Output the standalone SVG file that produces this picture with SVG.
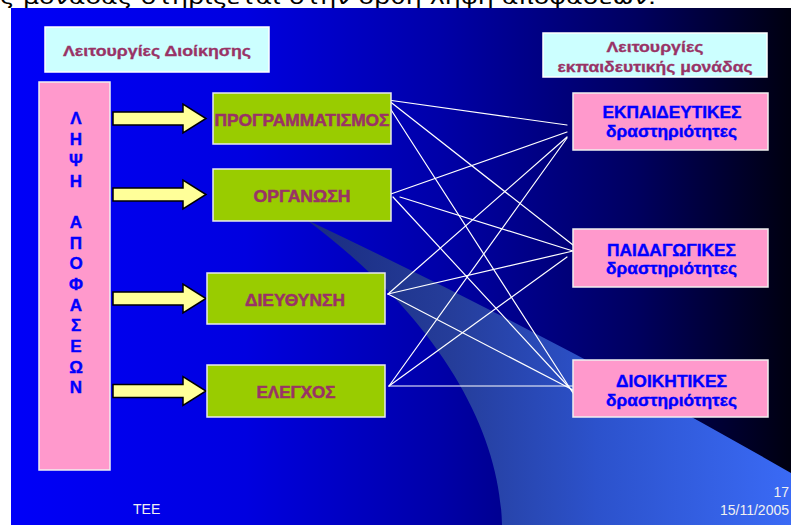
<svg xmlns="http://www.w3.org/2000/svg" width="791" height="525" viewBox="0 0 791 525">
<defs>
<linearGradient id="bg" x1="0" y1="0" x2="1" y2="0">
<stop offset="0" stop-color="#0000f8"/>
<stop offset="0.3" stop-color="#0000e0"/>
<stop offset="0.55" stop-color="#0000a8"/>
<stop offset="0.8" stop-color="#000060"/>
<stop offset="1" stop-color="#000010"/>
</linearGradient>
<linearGradient id="sw" gradientUnits="userSpaceOnUse" x1="307" y1="0" x2="791" y2="0">
<stop offset="0" stop-color="#1a2c80"/>
<stop offset="0.3" stop-color="#253d9a"/>
<stop offset="0.6" stop-color="#2c52cc"/>
<stop offset="1" stop-color="#3a6af5"/>
</linearGradient>
<path id="arr" d="M113,-6.5 H183 V-14.5 L206,0 L183,14.5 V6.5 H113 Z"/>
<style>
.arrow{fill:#ffff99;stroke:#000;stroke-width:1.5;stroke-linejoin:miter}
.title{fill:#ccffff;stroke:#ffffff;stroke-width:1.5}
.green{fill:#99cc00;stroke:#e8e8f0;stroke-width:1.5}
.pink{fill:#ff99cc;stroke:#f0f0f0;stroke-width:1.5}
.tt{font-family:"Liberation Sans",Arial,sans-serif;font-weight:bold;font-size:15px;fill:#993366;stroke:#993366;stroke-width:0.3;text-anchor:middle}
.gt{font-family:"Liberation Sans",Arial,sans-serif;font-weight:bold;font-size:16.5px;fill:#993366;stroke:#993366;stroke-width:0.5;text-anchor:middle}
.pt{font-family:"Liberation Sans",Arial,sans-serif;font-weight:bold;font-size:16.5px;fill:#0000ff;stroke:#0000ff;stroke-width:0.4;text-anchor:middle}
.lt{font-family:"Liberation Sans",Arial,sans-serif;font-weight:bold;font-size:17px;fill:#0000ff;stroke:#0000ff;stroke-width:0.4;text-anchor:middle}
.foot{font-family:"Liberation Sans",Arial,sans-serif;font-size:14px;fill:#f0f0f0}
#connectors line{stroke:#ffffff;stroke-width:1.2;stroke-linecap:round}
</style>
</defs>
<rect x="0" y="0" width="791" height="525" fill="#ffffff"/>
<text x="0" y="4" font-family="DejaVu Sans, sans-serif" font-size="20" fill="#000" textLength="656" lengthAdjust="spacingAndGlyphs">ς μονάδας στηρίζεται στην ορθή λήψη αποφάσεων.</text>
<rect x="11" y="8" width="780" height="517" fill="url(#bg)"/>
<path d="M307,220 Q560,340 791,473 L791,525 L502,525 C500,430 440,320 307,220 Z" fill="url(#sw)"/>

<g id="connectors">
<line x1="388" y1="100" x2="567" y2="125"/>
<line x1="388" y1="100" x2="573" y2="245"/>
<line x1="388" y1="105" x2="573" y2="393"/>
<line x1="388" y1="195" x2="567" y2="132"/>
<line x1="400" y1="197" x2="573" y2="251"/>
<line x1="393" y1="197" x2="578" y2="397"/>
<line x1="388" y1="294" x2="567" y2="137"/>
<line x1="388" y1="294" x2="573" y2="251"/>
<line x1="388" y1="294" x2="573" y2="390"/>
<line x1="389" y1="386" x2="567" y2="138"/>
<line x1="389" y1="386" x2="567" y2="257"/>
<line x1="389" y1="386" x2="573" y2="386"/>
</g>

<g id="title-left">
<rect class="title" x="45" y="27" width="224" height="45"/>
<text class="tt" x="157" y="56" textLength="188" lengthAdjust="spacingAndGlyphs">Λειτουργίες Διοίκησης</text>
</g>
<g id="title-right">
<rect class="title" x="543" y="33" width="224" height="44"/>
<text class="tt" x="655" y="52" textLength="97" lengthAdjust="spacingAndGlyphs">Λειτουργίες</text>
<text class="tt" x="655" y="72" textLength="195" lengthAdjust="spacingAndGlyphs">εκπαιδευτικής μονάδας</text>
</g>

<g id="decisions">
<rect class="pink" x="39" y="82" width="71" height="388"/>
<g class="lt">
<text x="76" y="124">Λ</text>
<text x="76" y="145">Η</text>
<text x="76" y="166">Ψ</text>
<text x="76" y="186.5">Η</text>
<text x="76" y="228">Α</text>
<text x="76" y="248.5">Π</text>
<text x="76" y="269">Ο</text>
<text x="76" y="290">Φ</text>
<text x="76" y="310.5">Α</text>
<text x="76" y="331">Σ</text>
<text x="76" y="351.5">Ε</text>
<text x="76" y="372.5">Ω</text>
<text x="76" y="393">Ν</text>
</g>
</g>

<g id="arrow-1"><use href="#arr" class="arrow" transform="translate(0,118.5)"/></g>
<g id="arrow-2"><use href="#arr" class="arrow" transform="translate(0,194.5)"/></g>
<g id="arrow-3"><use href="#arr" class="arrow" transform="translate(0,298.5)"/></g>
<g id="arrow-4"><use href="#arr" class="arrow" transform="translate(0,391)"/></g>

<g id="programmatismos">
<rect class="green" x="213" y="93" width="178" height="51"/>
<text class="gt" x="302" y="126" textLength="175" lengthAdjust="spacingAndGlyphs">ΠΡΟΓΡΑΜΜΑΤΙΣΜΟΣ</text>
</g>
<g id="organosi">
<rect class="green" x="213" y="169" width="178" height="52"/>
<text class="gt" x="302" y="202" textLength="97" lengthAdjust="spacingAndGlyphs">ΟΡΓΑΝΩΣΗ</text>
</g>
<g id="dieythynsi">
<rect class="green" x="207" y="273" width="178" height="51"/>
<text class="gt" x="295" y="305.5" textLength="100" lengthAdjust="spacingAndGlyphs">ΔΙΕΥΘΥΝΣΗ</text>
</g>
<g id="elegxos">
<rect class="green" x="207" y="365" width="178" height="52"/>
<text class="gt" x="296" y="398" textLength="79" lengthAdjust="spacingAndGlyphs">ΕΛΕΓΧΟΣ</text>
</g>

<g id="ekpaideytikes">
<rect class="pink" x="573" y="93" width="195" height="57"/>
<text class="pt" x="672" y="118" textLength="139" lengthAdjust="spacingAndGlyphs">ΕΚΠΑΙΔΕΥΤΙΚΕΣ</text>
<text class="pt" x="671.5" y="137" textLength="131" lengthAdjust="spacingAndGlyphs">δραστηριότητες</text>
</g>
<g id="paidagogikes">
<rect class="pink" x="573" y="229" width="195" height="58"/>
<text class="pt" x="671.5" y="256" textLength="129" lengthAdjust="spacingAndGlyphs">ΠΑΙΔΑΓΩΓΙΚΕΣ</text>
<text class="pt" x="671.5" y="274" textLength="131" lengthAdjust="spacingAndGlyphs">δραστηριότητες</text>
</g>
<g id="dioikitikes">
<rect class="pink" x="573" y="360" width="195" height="57"/>
<text class="pt" x="671.5" y="387" textLength="111" lengthAdjust="spacingAndGlyphs">ΔΙΟΙΚΗΤΙΚΕΣ</text>
<text class="pt" x="671.5" y="406" textLength="131" lengthAdjust="spacingAndGlyphs">δραστηριότητες</text>
</g>

<text class="foot" x="133" y="514">TEE</text>
<text class="foot" x="789" y="497" text-anchor="end">17</text>
<text class="foot" x="789" y="515" text-anchor="end">15/11/2005</text>
</svg>
